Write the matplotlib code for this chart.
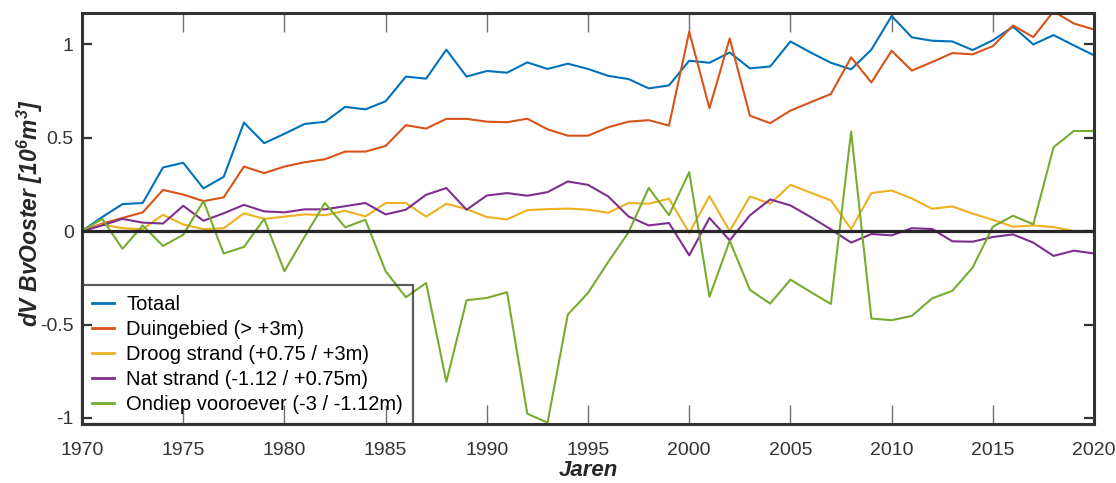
import numpy as np
import matplotlib
matplotlib.use("Agg")
import matplotlib.pyplot as plt

plt.rcParams['font.family'] = ['Liberation Sans', 'DejaVu Sans']
plt.rcParams['mathtext.fontset'] = 'custom'
plt.rcParams['mathtext.bf'] = 'Liberation Sans:bold:italic'
plt.rcParams['mathtext.rm'] = 'Liberation Sans:bold:italic'

# jaren 1970 - 2020
jaren = list(range(1970, 2021))

totaal = [0.0, 0.075, 0.144, 0.15, 0.34, 0.365, 0.228, 0.29, 0.58, 0.47,
          0.52, 0.573, 0.584, 0.664, 0.651, 0.694, 0.826, 0.815, 0.97, 0.826,
          0.856, 0.847, 0.902, 0.867, 0.895, 0.867, 0.83, 0.813, 0.763, 0.779,
          0.911, 0.90, 0.955, 0.87, 0.88, 1.014, 0.955, 0.90, 0.865, 0.97,
          1.15, 1.036, 1.018, 1.014, 0.968, 1.02, 1.093, 0.998, 1.048, 0.993,
          0.94]

duingebied = [0.0, 0.04, 0.07, 0.10, 0.22, 0.195, 0.16, 0.18, 0.345, 0.31,
              0.345, 0.368, 0.384, 0.425, 0.425, 0.455, 0.566, 0.548, 0.60, 0.60,
              0.585, 0.582, 0.601, 0.544, 0.51, 0.51, 0.555, 0.585, 0.593, 0.564,
              1.066, 0.657, 1.03, 0.617, 0.577, 0.644, 0.689, 0.733, 0.929, 0.795,
              0.964, 0.858, 0.904, 0.952, 0.945, 0.989, 1.10, 1.037, 1.175, 1.11,
              1.078]

droog_strand = [0.0, 0.035, 0.015, 0.01, 0.087, 0.035, 0.01, 0.015, 0.095, 0.065,
                0.077, 0.089, 0.085, 0.108, 0.078, 0.15, 0.15, 0.077, 0.146, 0.117,
                0.075, 0.062, 0.112, 0.117, 0.12, 0.114, 0.098, 0.15, 0.146, 0.173,
                -0.01, 0.187, 0.0, 0.185, 0.146, 0.247, 0.205, 0.164, 0.01, 0.203,
                0.217, 0.174, 0.119, 0.132, 0.093, 0.06, 0.023, 0.03, 0.021, 0.0,
                0.0]

nat_strand = [0.0, 0.03, 0.065, 0.045, 0.04, 0.135, 0.055, 0.095, 0.14, 0.105,
              0.10, 0.116, 0.116, 0.133, 0.15, 0.089, 0.114, 0.194, 0.23, 0.114,
              0.19, 0.203, 0.189, 0.208, 0.265, 0.247, 0.185, 0.078, 0.03, 0.043,
              -0.13, 0.07, -0.05, 0.084, 0.169, 0.137, 0.075, 0.009, -0.062, -0.016,
              -0.023, 0.015, 0.011, -0.055, -0.057, -0.032, -0.018, -0.062, -0.133, -0.105,
              -0.12]

ondiep = [0.0, 0.065, -0.095, 0.03, -0.08, -0.02, 0.16, -0.12, -0.085, 0.065,
          -0.215, -0.03, 0.15, 0.02, 0.06, -0.215, -0.354, -0.278, -0.806, -0.37,
          -0.358, -0.327, -0.977, -1.025, -0.447, -0.331, -0.165, -0.007, 0.231, 0.085,
          0.315, -0.352, -0.052, -0.315, -0.388, -0.26, -0.326, -0.39, 0.532, -0.468,
          -0.477, -0.454, -0.36, -0.32, -0.196, 0.023, 0.082, 0.036, 0.448, 0.535,
          0.535]

labels = ['Totaal', 'Duingebied (> +3m)', 'Droog strand (+0.75 / +3m)',
          'Nat strand (-1.12 / +0.75m)', 'Ondiep vooroever (-3 / -1.12m)']
kleuren = ['#0072BD', '#D95319', '#EDB120', '#7E2F8E', '#77AC30']

fig = plt.figure(figsize=(11.16, 4.83), dpi=100)
ax = fig.add_axes([0.0735, 0.1222, 0.9068, 0.8508])

for serie, lab, kl in zip([totaal, duingebied, droog_strand, nat_strand, ondiep], labels, kleuren):
    ax.plot(jaren, serie, color=kl, lw=1.5, label=lab)

# dikke nul-lijn
ax.axhline(0, color='#262626', lw=2.3, zorder=5)

ax.set_xlim(1970, 2020)
ax.set_ylim(-1.032, 1.166)
ax.set_xticks(range(1970, 2021, 5))
ax.set_yticks([-1, -0.5, 0, 0.5, 1])
ax.set_yticklabels(['-1', '-0.5', '0', '0.5', '1'])

for sp in ax.spines.values():
    sp.set_linewidth(2.2)
    sp.set_color('#333333')

ax.tick_params(axis='x', direction='in', top=True, length=13.5, width=1.0,
               color='#707070', labelsize=14, labelcolor='#333333', pad=13)
ax.tick_params(axis='y', direction='in', right=True, length=7, width=1.6,
               color='#333333', labelsize=14, labelcolor='#333333', pad=6)

ax.set_xlabel('Jaren', fontsize=16, fontweight='bold', fontstyle='italic',
              color='#262626', labelpad=1)
ax.set_ylabel(r'dV BvOoster [$\mathbf{10^{6}m^{3}}$]', fontsize=16.5, fontweight='bold',
              fontstyle='italic', color='#262626')
ax.yaxis.set_label_coords(-0.037, 0.513)

leg = ax.legend(loc='lower left', bbox_to_anchor=(0, 0), borderaxespad=0,
                fontsize=14.5, fancybox=False, handlelength=1.1, handletextpad=0.6,
                labelspacing=0.3, borderpad=0.5, facecolor='none', edgecolor='#333333')
leg.get_frame().set_linewidth(1.6)
for line in leg.get_lines():
    line.set_linewidth(2.0)

fig.savefig('out.png', dpi=100)
